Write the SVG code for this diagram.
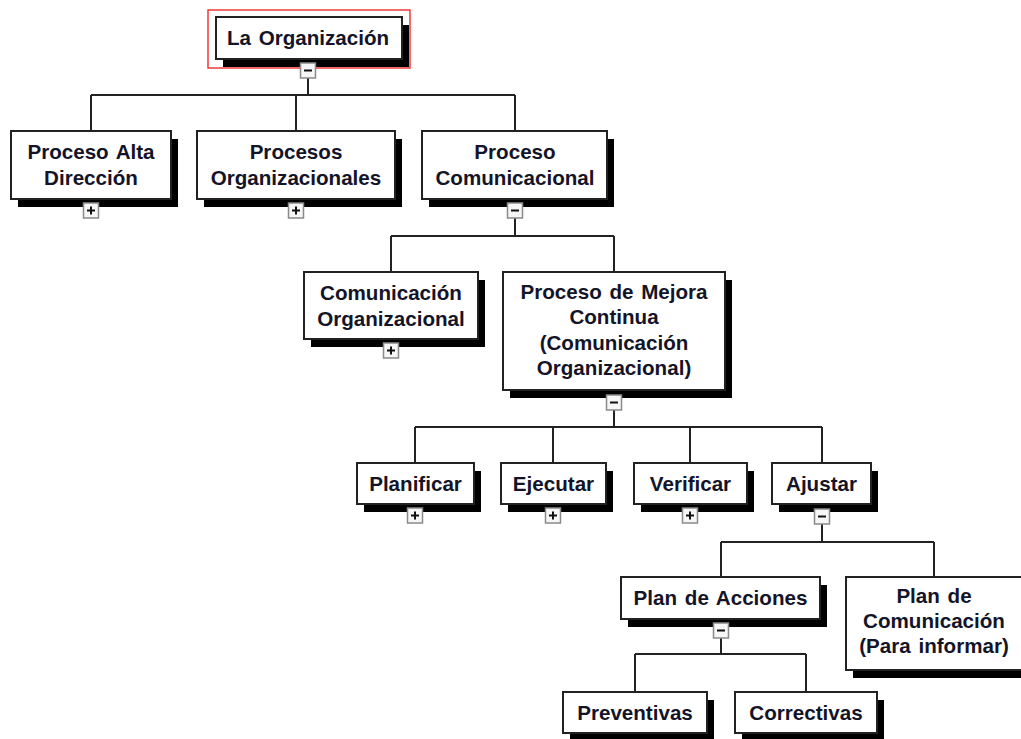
<svg xmlns="http://www.w3.org/2000/svg" width="1021" height="739" viewBox="0 0 1021 739">
  <style>
    .shadow { fill: #000; }
    .box { fill: #fff; stroke: #222; stroke-width: 2; }
    .label { font-family: "Liberation Sans", Arial, sans-serif; font-weight: bold; font-size: 20.6px; word-spacing: 2px; fill: #141428; text-anchor: middle; }
    .toggle { fill: #f6f6f6; stroke: #8a8a8a; stroke-width: 1.5; }
    .sign { stroke: #111; stroke-width: 2; fill: none; }
    .wire { stroke: #222; stroke-width: 2; fill: none; }
    .select { fill: none; stroke: #f03a3a; stroke-width: 1.5; }
  </style>
  <defs>
    <!-- collapse / expand buttons, centred on the origin -->
    <g id="btn-minus">
      <rect class="toggle" x="-7.5" y="0" width="15" height="15"/>
      <path class="sign" d="M-4 7.5 H4"/>
    </g>
    <g id="btn-plus">
      <rect class="toggle" x="-7.5" y="0" width="15" height="15"/>
      <path class="sign" d="M-4 7.5 H4 M0 3.5 V11.5"/>
    </g>
  </defs>
  <rect width="1021" height="739" fill="#fff"/>

  <!-- tree connectors -->
  <g id="connectors">
    <path class="wire" d="M308 78 V95 M91 95 H515 M91 95 V131 M296 95 V131 M515 95 V131"/>
    <path class="wire" d="M515 218 V236 M391 236 H614 M391 236 V272 M614 236 V272"/>
    <path class="wire" d="M614 410 V427 M415 427 H822 M415 427 V463 M553 427 V463 M690 427 V463 M822 427 V463"/>
    <path class="wire" d="M822 524 V542 M721 542 H934 M721 542 V577 M934 542 V577"/>
    <path class="wire" d="M721 638 V654 M635 654 H806 M635 654 V692 M806 654 V692"/>
  </g>

  <g id="node-organizacion">
    <rect class="select" x="208" y="10" width="202" height="58"/>
    <rect class="shadow" x="223" y="25" width="186" height="42"/>
    <rect class="box" x="216" y="17" width="186" height="42"/>
    <text class="label" x="308" y="45">La Organización</text>
    <use href="#btn-minus" x="308" y="63"/>
  </g>

  <g id="node-alta-direccion">
    <rect class="shadow" x="18" y="139" width="160" height="68"/>
    <rect class="box" x="11" y="131" width="160" height="68"/>
    <text class="label" x="91" y="159">Proceso Alta</text>
    <text class="label" x="91" y="185">Dirección</text>
    <use href="#btn-plus" x="91" y="203"/>
  </g>

  <g id="node-procesos-organizacionales">
    <rect class="shadow" x="204" y="139" width="198" height="68"/>
    <rect class="box" x="197" y="131" width="198" height="68"/>
    <text class="label" x="296" y="159">Procesos</text>
    <text class="label" x="296" y="185">Organizacionales</text>
    <use href="#btn-plus" x="296" y="203"/>
  </g>

  <g id="node-proceso-comunicacional">
    <rect class="shadow" x="429" y="139" width="185" height="68"/>
    <rect class="box" x="422" y="131" width="185" height="68"/>
    <text class="label" x="515" y="159">Proceso</text>
    <text class="label" x="515" y="185">Comunicacional</text>
    <use href="#btn-minus" x="515" y="203"/>
  </g>

  <g id="node-comunicacion-organizacional">
    <rect class="shadow" x="311" y="280" width="174" height="67"/>
    <rect class="box" x="304" y="272" width="174" height="67"/>
    <text class="label" x="391" y="300">Comunicación</text>
    <text class="label" x="391" y="326">Organizacional</text>
    <use href="#btn-plus" x="391" y="343"/>
  </g>

  <g id="node-mejora-continua">
    <rect class="shadow" x="510" y="280" width="222" height="118"/>
    <rect class="box" x="503" y="272" width="222" height="118"/>
    <text class="label" x="614" y="299">Proceso de Mejora</text>
    <text class="label" x="614" y="324">Continua</text>
    <text class="label" x="614" y="350">(Comunicación</text>
    <text class="label" x="614" y="375">Organizacional)</text>
    <use href="#btn-minus" x="614" y="395"/>
  </g>

  <g id="node-planificar">
    <rect class="shadow" x="364" y="471" width="117" height="41"/>
    <rect class="box" x="357" y="463" width="117" height="41"/>
    <text class="label" x="415.5" y="491">Planificar</text>
    <use href="#btn-plus" x="415" y="508"/>
  </g>

  <g id="node-ejecutar">
    <rect class="shadow" x="508" y="471" width="105" height="41"/>
    <rect class="box" x="501" y="463" width="105" height="41"/>
    <text class="label" x="553.5" y="491">Ejecutar</text>
    <use href="#btn-plus" x="553" y="508"/>
  </g>

  <g id="node-verificar">
    <rect class="shadow" x="641" y="471" width="113" height="41"/>
    <rect class="box" x="634" y="463" width="113" height="41"/>
    <text class="label" x="690.5" y="491">Verificar</text>
    <use href="#btn-plus" x="690" y="508"/>
  </g>

  <g id="node-ajustar">
    <rect class="shadow" x="779" y="471" width="99" height="41"/>
    <rect class="box" x="772" y="463" width="99" height="41"/>
    <text class="label" x="821.5" y="491">Ajustar</text>
    <use href="#btn-minus" x="822" y="509"/>
  </g>

  <g id="node-plan-acciones">
    <rect class="shadow" x="628" y="585" width="199" height="42"/>
    <rect class="box" x="621" y="577" width="199" height="42"/>
    <text class="label" x="720.5" y="605">Plan de Acciones</text>
    <use href="#btn-minus" x="721" y="623"/>
  </g>

  <g id="node-plan-comunicacion">
    <rect class="shadow" x="853" y="585" width="176" height="93"/>
    <rect class="box" x="846" y="577" width="176" height="93"/>
    <text class="label" x="934" y="603">Plan de</text>
    <text class="label" x="934" y="628">Comunicación</text>
    <text class="label" x="934" y="653">(Para informar)</text>
  </g>

  <g id="node-preventivas">
    <rect class="shadow" x="570" y="700" width="144" height="41"/>
    <rect class="box" x="563" y="692" width="144" height="41"/>
    <text class="label" x="635" y="720">Preventivas</text>
  </g>

  <g id="node-correctivas">
    <rect class="shadow" x="742" y="700" width="142" height="41"/>
    <rect class="box" x="735" y="692" width="142" height="41"/>
    <text class="label" x="806" y="720">Correctivas</text>
  </g>
</svg>
